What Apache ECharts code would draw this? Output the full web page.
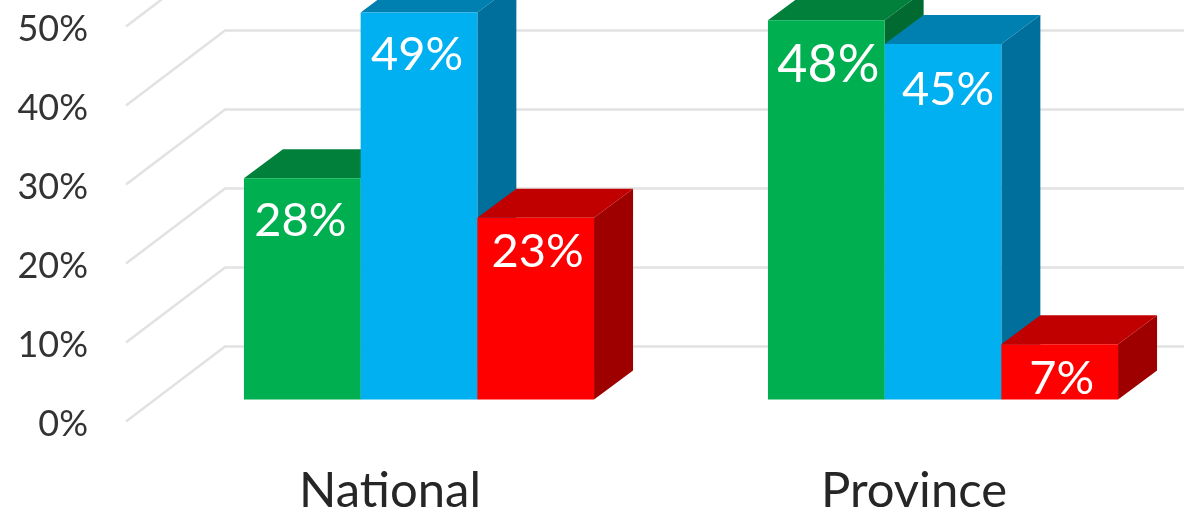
<!DOCTYPE html>
<html>
<head>
<meta charset="utf-8">
<style>html,body{margin:0;padding:0;background:#fff}#c{width:1192px;height:508px}</style>
<script src="https://cdn.jsdelivr.net/npm/echarts@6/dist/echarts.min.js"></script>
</head>
<body>
<div id="c"></div>
<script>
const categories = ["National", "Province"];
const greenValues = [28, 48];
const blueValues = [49, 45];
const redValues = [23, 7];
const gridTicks = [0, 10, 20, 30, 40, 50];

const FONT = 'Lato, "Open Sans", sans-serif';
const WALL = {dx: 99, dy: -75};
const DEPTH = {dx: 39, dy: -29};
const SHIFT = {dx: 29, dy: -22};
const BAR_RATIO = 0.2227;
const GRID_END = 1184;

function barRender(offsetIndex, front, top, side, labelDrops, labelSizes, labelNudges) {
  return function (params, api) {
    const cat = api.value(0), val = api.value(1);
    const band = api.size([1, 0])[0];
    const w = band * BAR_RATIO;
    const base = api.coord([cat, 0]);
    const head = api.coord([cat, val]);
    const x0 = base[0] + SHIFT.dx + (offsetIndex - 1.5) * w;
    const x1 = x0 + w;
    const yB = base[1] + SHIFT.dy;
    const yT = head[1] + SHIFT.dy;
    const d = DEPTH;
    return {
      type: 'group',
      children: [
        {type: 'polygon', shape: {points: [[x1, yT], [x1 + d.dx, yT + d.dy], [x1 + d.dx, yB + d.dy], [x1, yB]]}, style: {fill: side}},
        {type: 'polygon', shape: {points: [[x0, yT], [x0 + d.dx, yT + d.dy], [x1 + d.dx, yT + d.dy], [x1, yT]]}, style: {fill: top}},
        {type: 'rect', shape: {x: x0, y: yT, width: w, height: yB - yT}, style: {fill: front}},
        {type: 'text', style: {
          text: val + '%', x: (x0 + x1) / 2 + labelNudges[params.dataIndex], y: yT + labelDrops[params.dataIndex],
          fill: '#ffffff', font: labelSizes[params.dataIndex] + 'px ' + FONT,
          align: 'center', verticalAlign: 'middle'
        }}
      ]
    };
  };
}

function pairs(values) { return values.map((v, i) => [i, v]); }

const chart = echarts.init(document.getElementById('c'));
chart.setOption({
  animation: false,
  backgroundColor: '#ffffff',
  grid: {left: 128, top: 26.5, width: 1048, height: 395, containLabel: false, outerBoundsMode: 'none'},
  xAxis: {
    type: 'category', data: categories,
    axisLine: {show: false}, axisTick: {show: false},
    axisLabel: {color: '#262626', fontFamily: FONT, fontSize: 49, margin: 45}
  },
  yAxis: {
    type: 'value', min: 0, max: 50, interval: 10,
    axisLine: {show: false}, axisTick: {show: false}, splitLine: {show: false},
    axisLabel: {
      margin: 40, formatter: '{t|{value}%}',
      rich: {t: {color: '#333333', fontFamily: FONT, fontSize: 36, padding: [6, 0, 0, 0]}}
    }
  },
  series: [
    {
      type: 'custom', silent: true, clip: false, z: 1,
      encode: {x: 0, y: 1},
      data: gridTicks.map(t => [0, t]),
      renderItem(params, api) {
        const y = api.coord([0, api.value(1)])[1];
        const x = params.coordSys.x - 2;
        const pts = [[x, y], [x + WALL.dx, y + WALL.dy], [GRID_END, y + WALL.dy]];
        return {type: 'polyline', shape: {points: pts}, style: {fill: 'none', stroke: '#e2e2e2', lineWidth: 2.5}};
      }
    },
    {type: 'custom', silent: true, clip: false, z: 2, encode: {x: 0, y: 1}, data: pairs(greenValues),
      renderItem: barRender(0, '#00b050', '#00803a', '#006a30', [43, 45], [47, 52], [-2, 2])},
    {type: 'custom', silent: true, clip: false, z: 3, encode: {x: 0, y: 1}, data: pairs(blueValues),
      renderItem: barRender(1, '#00b0f0', '#0080b0', '#006f9c', [42, 46], [47, 47], [-2, 5])},
    {type: 'custom', silent: true, clip: false, z: 4, encode: {x: 0, y: 1}, data: pairs(redValues),
      renderItem: barRender(2, '#ff0000', '#c00000', '#9e0000', [34, 35], [47, 47], [2, 2])}
  ]
});
</script>
</body>
</html>
